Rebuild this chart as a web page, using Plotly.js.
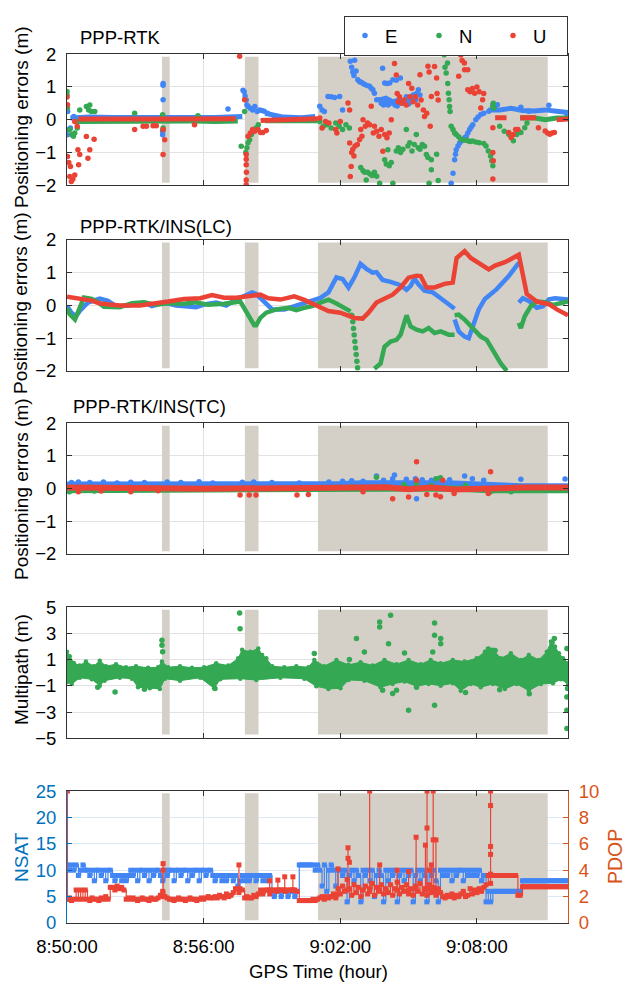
<!DOCTYPE html>
<html><head><meta charset="utf-8">
<script src="https://cdn.plot.ly/plotly-3.0.1.min.js"></script>
<style>body{margin:0;background:#fff}#chart{width:630px;height:984px}</style>
</head><body><div id="chart"></div><script>
// time axis: minutes after 8:50:00
const xTickVals = [0, 6, 12, 18];
const xTickText = ['8:50:00', '8:56:00', '9:02:00', '9:08:00'];
const shadeWindows = [[4.17, 4.51], [7.81, 8.41], [11.02, 21.11]];

// ---------- Panel 1: PPP-RTK (E/N/U) ----------
const rtkE_bandT = [0.15,1,2,3,4,4.6,5.5,6.5,7.4,7.7,null,8.7,9.5,10.3,10.9,null,13.7,14.0,14.3,14.6,14.9,15.2,15.4,null,18.5,19,19.5,20,20.5,21,21.5,22];
const rtkE_bandV = [0.05,0.08,0.07,0.08,0.07,0.06,0.07,0.07,0.08,0.1,null,0.2,0.08,0.06,0.1,null,0.6,0.66,0.55,0.6,0.55,0.62,0.7,null,0.3,0.3,0.35,0.28,0.27,0.3,0.26,0.22];
const rtkE_dots = [[0.02,-0.46],[0.08,-0.3],[0.15,-0.25],[0.03,0.25],[0.3,0.1],[4.22,1.1],[4.22,1.05],[4.22,0.61],[4.2,-0.46],[4.2,-0.35],[7.07,0.33],[7.73,0.9],[7.78,0.85],[7.82,0.72],[7.87,0.6],[7.9,0.45],[7.95,0.4],[8.05,0.35],[8.15,0.3],[8.25,0.4],[8.35,0.25],[8.45,0.3],[8.55,0.28],[8.66,0.26],[8.8,0.2],[9.1,0.12],
[11.1,0.41],[11.2,0.3],[11.3,0.25],[11.46,0.71],[11.6,0.7],[11.75,0.68],[11.97,0.71],[12.1,0.3],
[12.44,1.78],[12.5,1.6],[12.55,1.45],[12.6,1.35],[12.63,1.81],[12.69,1.48],[12.77,1.22],[12.85,1.16],[12.92,1.14],[13.0,1.1],[13.07,1.07],[13.18,1.04],[13.29,1.02],[13.36,0.96],[13.43,0.91],[13.5,0.81],[13.6,0.61],[13.73,0.61],[13.86,1.57],[13.95,1.12],[14.05,1.1],[14.17,1.12],[14.31,1.22],[14.46,1.2],[14.64,1.27],[13.8,0.5],[13.9,0.45],[14.0,0.55],[14.1,0.45],[14.2,0.5],[14.4,0.45],[14.5,0.42],[14.7,0.5],[14.8,0.52],[15.0,0.48],[15.1,0.55],[15.3,0.6],[15.43,0.91],[15.35,0.8],[15.5,0.75],[15.2,0.75],[14.9,0.7],
[16.83,-2.05],[16.87,-1.93],[16.95,-1.63],[17.02,-1.22],[17.06,-1.05],[17.09,-0.91],[17.17,-0.8],[17.24,-0.71],[17.32,-0.65],[17.39,-0.61],[17.46,-0.55],[17.53,-0.51],[17.6,-0.4],[17.68,-0.3],[17.75,-0.22],[17.82,-0.15],[17.95,0.0],[18.05,0.08],[18.17,0.16],[18.3,0.2],[18.52,0.26],[18.7,0.46],[18.8,0.42],[18.9,0.46],[19.93,0.38],[21.16,0.44],[21.95,0.16],[20.28,0.26]];

const rtkN_bandT = [0.4,1.5,2.5,3.5,4.1,4.6,5.5,6.5,7.5,null,8.7,9.5,10.3,11,null,19.9,20.5,21,21.5,22];
const rtkN_bandV = [-0.05,-0.04,-0.05,-0.05,-0.04,-0.05,-0.04,-0.05,-0.04,null,-0.03,-0.04,-0.05,-0.03,null,0.05,0.06,0.0,0.05,0.05];
const rtkN_dots = [[0.0,0.86],[0.0,0.75],[0.02,0.36],[0.12,-0.3],[0.2,-0.45],[0.28,-0.5],[0.34,-0.4],[0.45,-0.25],[0.56,0.3],[0.85,0.4],[0.95,0.3],[1.0,0.45],[1.07,0.25],[1.22,0.25],[2.97,0.2],[4.2,0.15],[4.22,-0.25],[4.22,-0.3],[5.75,0.12],[7.65,-0.81],[7.8,0.25],[7.85,-1.0],[7.9,-0.85],[7.95,-0.7],[8.02,-0.61],[8.1,-0.45],[8.2,-0.35],[8.3,-0.25],[8.4,-0.15],
[11.1,-0.05],[11.25,-0.2],[11.4,-0.15],[11.6,-0.25],[11.8,-0.1],[11.95,-0.2],[12.1,-0.3],[12.25,-0.15],[12.4,-0.25],
[12.9,-1.45],[13.0,-1.55],[13.07,-1.6],[13.14,-1.83],[13.2,-1.6],[13.3,-1.65],[13.4,-1.7],[13.5,-1.6],[13.6,-1.72],[13.73,-1.93],[13.95,-1.22],[14.02,-1.35],[14.09,-0.91],[14.15,-1.4],[14.24,-1.3],[14.31,-1.93],[14.46,-0.95],[14.55,-0.85],[14.65,-1.0],[14.75,-0.9],[14.9,-0.3],[14.97,-0.8],[15.05,-0.7],[15.15,-0.95],[15.25,-0.75],[15.34,-0.45],[15.42,-0.85],[15.5,-0.9],[15.6,-0.75],[15.7,-0.81],[15.78,-1.06],[15.85,-1.15],[15.9,-1.93],[16.0,-1.22],[16.0,-1.52],[16.23,-1.05],[16.3,-1.85],
[16.56,1.98],[16.6,1.6],[16.65,1.42],[16.71,1.73],[16.72,1.1],[16.75,0.81],[16.78,0.61],[16.8,0.4],[16.82,0.25],[16.87,-0.2],[16.95,-0.3],[17.02,-0.4],[17.09,-0.45],[17.2,-0.52],[17.3,-0.6],[17.39,-0.61],[17.5,-0.62],[17.6,-0.64],[17.7,-0.66],[17.8,-0.65],[17.95,-0.68],[18.1,-0.7],[18.3,-0.72],[18.4,-0.8],[18.5,-0.95],[18.6,-1.1],[18.7,-1.4],[18.65,-1.25],[18.7,0.4],[18.72,0.5],[18.75,0.36],[19.0,-0.2],[19.2,-0.35],[19.4,-0.44],[19.5,-0.5],[19.6,-0.64],[19.75,-0.45],[19.93,-0.39],[20.1,-0.24],[20.2,-0.1]];

const rtkU_bandT = [0.5,1.5,2.5,3.5,4.1,4.6,5.5,6.5,7.4,null,8.5,9.5,10.3,11,null,18.8,19.3,null,19.9,20.6,null,21.5,22];
const rtkU_bandV = [0.02,0.03,0.02,0.03,0.02,0.02,0.03,0.02,0.03,null,-0.02,0.0,0.02,0.03,null,0.06,0.06,null,0.06,0.06,null,0.0,0.02];
const rtkU_dots = [[0.0,0.69],[0.02,0.46],[0.02,-1.12],[0.08,-1.3],[0.15,-1.42],[0.12,-1.73],[0.19,-1.88],[0.26,-1.8],[0.34,-1.68],[0.34,-0.05],[0.45,-0.2],[0.48,-0.91],[0.56,-1.06],[0.51,-1.37],[0.85,-0.51],[0.92,-1.17],[1.0,-0.91],[1.19,-0.59],[2.97,-0.3],[3.34,-0.2],[3.49,-0.2],[3.78,-0.18],[3.92,-0.18],[4.22,-0.3],[4.29,-0.61],[4.22,-1.06],[5.6,-0.15],[7.58,1.93],[7.8,0.61],[7.87,-1.06],[7.87,-1.2],[7.87,-1.37],[7.88,-1.6],[7.87,-1.83],[7.87,-1.98],[7.95,-0.5],[8.05,-0.4],[8.15,-0.3],[8.24,-0.35],[8.39,-0.3],[8.5,-0.39],[8.6,-0.39],[8.75,-0.33],
[11.1,0.05],[11.2,-0.25],[11.35,-0.05],[11.5,-0.1],[11.8,-0.3],[11.85,-0.4],[12.0,-0.05],[12.34,0.51],[12.41,0.3],
[12.41,-0.71],[12.44,-1.73],[12.48,-1.42],[12.5,-1.0],[12.55,-0.9],[12.6,-1.1],[12.65,-0.8],[12.75,-0.75],[12.85,-0.6],[12.9,-0.3],[12.95,-0.5],[13.0,0.0],[13.1,-0.2],[13.2,-0.1],[13.29,-0.15],[13.36,0.41],[13.45,-0.4],[13.5,-0.2],[13.6,-0.35],[13.7,-0.5],[13.8,-0.3],[13.87,-0.96],[13.95,-0.45],[14.05,-0.55],[14.15,-0.4],[14.24,0.0],[14.38,1.71],[14.46,1.36],[14.5,0.8],[14.55,0.55],[14.6,0.7],[14.7,0.5],[14.8,0.6],[14.9,0.45],[15.0,1.1],[15.05,0.7],[15.14,0.96],[15.2,0.55],[15.3,0.7],[15.4,0.45],[15.5,1.37],[15.55,0.6],[15.65,0.3],[15.7,0.1],[15.8,0.2],[15.85,1.63],[15.9,1.45],[15.95,-0.2],[16.0,0.71],[16.14,1.62],[16.23,1.27],[16.25,0.8],[16.3,0.6],
[17.2,1.32],[17.29,1.97],[17.35,1.8],[17.45,1.73],[17.46,1.52],[17.6,1.52],[17.6,0.91],[17.7,0.85],[17.8,0.95],[17.9,0.81],[18.0,1.0],[18.1,0.85],[18.17,0.36],[18.25,0.61],[18.3,0.8],[18.7,-0.24],[18.7,-1.0],[18.72,-1.25],[18.7,-1.8],[19.4,-0.39],[19.5,-0.54],[19.6,-0.45],[19.7,-0.3],[19.8,-0.3],[20.7,-0.24],[21.0,-0.34],[21.1,-0.4],[21.2,-0.44],[21.3,-0.4],[21.4,-0.39]];

// ---------- Panel 2: PPP-RTK/INS (LC) ----------
const lcE = [[0,-0.02],[0.2,-0.22],[0.39,-0.33],[0.56,-0.17],[0.92,0.09],[1.44,0.21],[1.8,0.14],[2.15,-0.02],[2.68,0],[3.38,0.09],[3.73,-0.02],[4.26,0.09],[4.79,0],[5.32,-0.04],[5.67,-0.05],[6.02,0.03],[6.55,0.09],[6.99,0],[7.43,0.19],[7.78,0.29],[8.13,0.4],[8.31,0.35],[8.66,0.09],[9.01,-0.12],[9.54,-0.12],[10.07,0],[10.6,0.14],[11.13,0.23],[11.48,0.4],[11.83,0.86],[12.1,0.81],[12.36,0.55],[12.62,0.86],[12.89,1.27],[13.15,1.12],[13.42,1.0],[13.59,1.02],[13.86,0.78],[14.21,0.72],[14.65,0.62],[14.91,0.48],[15.09,0.6],[15.26,0.82],[15.44,0.64],[15.7,0.45],[16.06,0.4],[16.41,0.22],[16.76,0.02],[17.02,-0.1],[null,null],[17.02,-0.43],[17.2,-0.79],[17.46,-0.95],[17.64,-1.0],[17.82,-0.64],[18.08,-0.12],[18.35,0.2],[18.87,0.5],[19.4,0.9],[19.84,1.3],[null,null],[19.84,0.09],[20.02,0.22],[20.28,0.14],[20.63,-0.07],[20.9,-0.02],[21.16,0.19],[21.43,0.22],[22.0,0.18]];
const lcN = [[0,-0.07],[0.12,-0.27],[0.35,-0.43],[0.56,-0.02],[0.74,0.24],[1.09,0.2],[1.36,0.1],[1.62,-0.04],[2.32,-0.05],[2.85,0.07],[3.38,0.1],[3.91,0.02],[4.44,0.07],[5.14,0.05],[5.67,0.1],[6.2,0.02],[6.9,0.05],[7.61,0.12],[7.87,-0.17],[8.05,-0.43],[8.22,-0.6],[8.31,-0.6],[8.49,-0.38],[8.75,-0.22],[9.19,-0.12],[9.72,-0.07],[10.07,-0.14],[10.42,-0.07],[10.77,-0.02],[11.13,0.09],[11.48,0.18],[11.83,0.06],[12.18,-0.08],[12.45,-0.18],[null,null],[13.5,-1.93],[13.77,-1.77],[13.94,-1.26],[14.21,-1.1],[14.47,-1.05],[14.65,-0.89],[14.91,-0.3],[15.09,-0.64],[15.35,-0.74],[15.62,-0.79],[15.88,-0.69],[16.14,-0.84],[16.41,-0.79],[16.76,-0.89],[17.02,-0.89],[null,null],[17.02,-0.3],[17.2,-0.28],[17.46,-0.43],[17.82,-0.69],[18.17,-0.95],[18.43,-1.05],[18.7,-1.36],[19.05,-1.77],[19.31,-2.0],[null,null],[19.84,-0.53],[19.93,-0.69],[20.1,-0.33],[20.37,-0.02],[20.63,0.12],[20.99,0.1],[21.34,0.02],[21.69,0.06],[22.0,0.12]];
const lcN_fallDots = [[12.5,-0.3],[12.55,-0.5],[12.58,-0.7],[12.61,-0.9],[12.64,-1.1],[12.67,-1.3],[12.7,-1.5],[12.73,-1.7],[12.76,-1.9]];
const lcU = [[0,0.27],[0.56,0.22],[1.09,0.15],[1.44,0.06],[2.32,0],[3.2,0],[3.73,0.04],[4.44,0.12],[5.14,0.2],[5.85,0.22],[6.37,0.32],[6.9,0.24],[7.43,0.24],[8.13,0.3],[8.49,0.33],[8.84,0.22],[9.37,0.18],[9.98,0.28],[10.42,0.17],[10.95,0],[11.48,-0.17],[12.0,-0.22],[12.36,-0.3],[12.62,-0.38],[12.98,-0.4],[13.24,-0.22],[13.59,0.09],[13.94,0.2],[14.3,0.33],[14.65,0.55],[15.0,0.85],[15.35,0.91],[15.53,0.9],[15.79,0.55],[16.14,0.55],[16.58,0.66],[16.94,0.7],[17.11,1.45],[17.46,1.66],[17.73,1.45],[18.08,1.3],[18.52,1.1],[18.8,1.22],[19.23,1.32],[19.84,1.55],[20.02,0.86],[20.19,0.35],[20.63,0.12],[21.16,0.04],[21.51,-0.12],[22.0,-0.3]];

// ---------- Panel 3: PPP-RTK/INS (TC) ----------
const tcE_band = [[0,0.12],[2,0.12],[4,0.11],[6,0.12],[8,0.1],[10,0.11],[11,0.12],[12,0.14],[13,0.16],[14,0.17],[15,0.18],[16,0.16],[17,0.15],[18,0.13],[18.8,0.08],[20,0.07],[22,0.07]];
const tcE_dots = [[0.2,0.18],[0.5,0.2],[1.0,0.18],[1.6,0.2],[2.2,0.17],[2.8,0.19],[3.4,0.18],[4.4,0.2],[5.0,0.18],[5.8,0.21],[6.4,0.17],[7.7,0.19],[8.2,0.2],[9.0,0.18],[10.2,0.17],[11.5,0.2],[12.1,0.22],[12.5,0.24],[13.0,0.22],[13.59,0.38],[13.9,0.25],[14.3,0.3],[14.38,0.41],[14.9,0.28],[15.3,0.3],[15.35,-0.31],[15.6,0.27],[16.0,0.25],[16.3,0.3],[16.8,0.27],[17.46,0.38],[17.8,0.3],[18.3,0.25],[19.93,0.28],[21.87,0.29]];
const tcN_band = [[0,-0.05],[3,-0.04],[6,-0.05],[9,-0.04],[11,-0.04],[12.5,-0.02],[14,0.0],[15.5,0.02],[17,0.0],[18.5,-0.05],[20,-0.04],[22,-0.05]];
const tcN_dots = [[0.1,-0.1],[1.2,-0.08],[13.59,0.34],[15.35,0.15],[16.2,0.3],[16.4,0.33],[16.0,0.1],[12.5,0.05],[19.5,-0.1],[18.6,-0.1],[14.8,0.12],[17.5,0.1]];
const tcU_band = [[0,0.03],[2,0.0],[4,0.01],[6,-0.01],[8,0.0],[10,0.01],[11,0.0],[12,0.02],[13,0.0],[14,0.04],[15,-0.02],[16,0.03],[17,-0.03],[18,0.0],[18.8,0.03],[20,0.03],[22,0.03]];
const tcU_dots = [[0.5,-0.1],[1.5,-0.08],[2.8,-0.1],[4.0,-0.07],[7.6,-0.2],[8.0,-0.2],[8.3,-0.2],[10.1,-0.2],[10.6,-0.18],[14.3,-0.31],[15.0,-0.26],[15.35,0.82],[15.35,0.25],[16.4,-0.25],[16.5,0.25],[18.6,0.51],[18.5,-0.15],[17.0,-0.15],[13.0,-0.1],[15.8,-0.18],[16.2,-0.2]];

// ---------- Panel 4: Multipath ----------
const mpUpper = [[0.0,1.6],[0.12,1.25],[0.3,0.75],[0.56,0.55],[0.83,0.85],[1.18,0.5],[1.44,0.92],[1.71,0.5],[2.15,0.65],[2.59,0.42],[3.03,0.5],[3.56,0.38],[4.0,0.42],[4.17,0.85],[4.44,0.42],[4.96,0.5],[5.49,0.38],[6.02,0.42],[6.55,0.72],[7.08,0.55],[7.52,1.1],[7.69,1.75],[8.05,1.6],[8.4,1.85],[8.57,1.36],[8.75,1.1],[9.01,0.5],[9.54,0.42],[10.07,0.5],[10.6,0.42],[10.86,0.98],[11.3,0.5],[11.83,0.98],[12.36,0.6],[12.89,0.8],[13.42,0.55],[13.94,0.98],[14.47,0.65],[15.0,0.98],[15.53,0.65],[15.97,0.98],[16.41,0.72],[16.94,0.98],[17.46,0.85],[17.99,1.1],[18.35,1.6],[18.7,1.75],[19.05,1.1],[19.49,1.48],[19.93,0.98],[20.28,1.36],[20.72,0.98],[21.07,1.6],[21.25,2.37],[21.43,2.0],[21.6,1.48],[21.78,1.1],[22.0,0.72]];
const mpLower = [[0.0,-0.72],[0.21,-0.85],[0.56,-0.38],[1.09,-0.5],[1.44,-0.98],[1.65,-0.6],[2.32,-0.38],[2.85,-0.45],[3.12,-1.1],[3.64,-1.18],[4.08,-1.23],[4.3,-0.45],[4.96,-0.6],[5.85,-0.38],[6.46,-1.18],[6.73,-0.5],[7.61,-0.45],[8.31,-0.55],[9.37,-0.38],[10.42,-0.45],[10.95,-1.03],[11.48,-1.23],[12.01,-1.18],[12.36,-0.55],[13.06,-0.6],[13.77,-1.1],[14.3,-0.85],[14.82,-0.67],[15.35,-1.03],[15.88,-0.85],[16.41,-0.98],[16.94,-0.8],[17.29,-1.36],[17.73,-0.85],[18.17,-1.1],[18.7,-0.85],[19.23,-1.23],[19.75,-0.85],[20.28,-1.36],[20.81,-0.85],[21.34,-0.8],[21.69,-0.5],[22.0,-0.85]];
const mpOutliers = [[7.58,4.54],[7.6,3.35],[4.17,2.47],[4.17,2.1],[4.2,1.6],[2.11,-1.46],[12.71,2.6],[13.06,1.58],[13.73,3.86],[13.73,3.48],[14.21,4.37],[14.12,2.2],[14.82,1.5],[15.0,-2.85],[16.14,3.78],[16.14,2.85],[16.41,2.6],[16.41,2.2],[16.06,1.58],[16.14,-2.47],[13.86,-1.33],[14.3,-1.58],[14.47,-1.33],[15.35,-1.1],[21.95,1.84],[21.95,-1.84],[21.95,-2.85],[21.95,-4.24],[21.98,-1.2],[10.86,1.46],[12.4,1.0],[19.0,-1.3],[17.5,-1.5],[20.3,-1.6],[21.3,2.3],[21.4,2.6],[18.5,1.8],[18.8,1.7],[1.35,-1.1],[3.4,-1.25],[6.5,-1.2]];

// ---------- Panel 5: NSAT / PDOP, one sample every 0.1 min ----------
const nsatVals = [
 11,10,11,10,11,9,10,11,10,
 10,9,10,8,10,10,9,10,8,10,10,
 9,8,9,9,8,9,8,9,
 10,9,10,8,10,10,9,10,8,10,9,10,10,9,
 8,10,9,10,
 10,8,10,10,9,10,10,8,10,9,10,10,8,10,10,9,10,10,
 9,8,9,9,8,9,8,9,9,8,9,7,8,
 9,8,9,8,9,9,8,9,
 9,8,9,8,9,
 6,5,6,6,5,6,6,5,6,6,5,6,
 11,11,11,11,11,11,11,10,11,
 10,7,11,6,10,11,10,7,10,
 10,9,10,4,9,10,8,10,9,4,10,
 9,10,8,10,5,9,10,9,4,10,
 8,10,9,10,4,9,10,8,10,9,
 10,4,9,10,8,10,9,4,10,9,
 10,8,4,10,9,10,9,10,8,10,
 9,10,10,8,10,9,10,9,10,9,
 10,8,9,
 4,6,4,
 6,6,6,6,6,6,6,6,6,6,6,6,6,
 8,8,8,8,8,8,8,8,8,8,8,8,8,8,8,8,8,8,8,8,8];
const pdopVals = [
 1.8,1.9,1.7,1.8,2.5,1.8,2.5,1.8,2.5,
 1.8,1.7,1.9,1.8,1.8,1.7,1.9,1.8,2.0,1.8,2.7,
 2.7,2.5,2.8,2.6,2.7,2.5,1.8,1.9,
 1.8,1.9,1.8,1.7,1.8,1.9,1.8,1.8,1.7,1.9,1.8,1.8,1.9,2.1,
 2.4,2.0,1.9,1.8,
 1.8,1.7,1.8,1.9,1.8,1.8,1.7,1.8,1.9,1.8,1.8,1.7,1.8,1.9,1.8,1.9,2.0,1.9,
 1.9,2.0,1.9,2.1,2.0,1.9,2.2,2.0,2.1,2.3,2.6,2.6,2.6,
 2.5,1.9,2.0,1.9,1.9,2.1,2.0,2.2,
 2.5,2.2,2.5,2.5,2.2,
 2.5,2.5,2.4,2.5,2.5,2.5,2.4,2.5,2.5,2.5,2.5,2.4,
 1.7,1.7,1.7,1.7,1.7,1.7,1.8,1.7,1.8,
 1.9,2.0,1.8,2.0,1.9,2.0,2.2,1.9,2.6,
 2.2,2.8,2.4,3.3,2.6,2.1,2.9,2.3,2.7,2.0,2.5,
 2.8,2.2,2.6,3.0,2.1,2.7,2.4,2.9,2.2,2.6,
 2.3,2.9,2.1,2.6,3.1,2.2,2.7,2.4,2.9,2.2,
 2.6,2.1,2.8,2.4,3.0,2.2,2.6,2.1,2.9,2.3,
 2.7,2.1,2.6,2.3,2.0,1.9,2.1,2.0,2.2,1.9,
 2.1,2.0,2.2,2.4,2.0,2.1,2.6,2.2,2.5,2.3,
 2.6,2.4,2.7,
 2.9,3.6,3.7,
 3.6,3.6,3.6,3.6,3.6,3.6,3.6,3.6,3.6,3.6,3.6,2.1,2.1,
 2.75,2.75,2.75,2.75,2.75,2.75,2.75,2.75,2.75,2.75,2.75,2.75,2.75,2.75,2.75,2.75,2.75,2.75,2.75,2.75,2.75];
// PDOP spikes: [time, base, top]
const pdopSpikes = [[0.02,1.8,10],[4.22,2.0,4.5],[7.55,2.3,4.4],[8.9,2.5,3.2],[9.26,2.5,3.25],[9.56,2.5,3.5],[9.92,2.5,3.5],[11.9,2.2,4.1],[12.34,2.5,5.7],[13.29,2.4,10],[13.73,2.5,4.4],[14.5,2.5,4.0],[15.0,2.5,3.9],[15.33,2.6,6.5],[15.74,2.5,5.9],[15.81,2.6,10],[16.0,2.5,4.4],[16.08,2.6,10],[16.2,2.4,6.3],[18.6,3.0,10]];
const pdopSpikeMarks = [[4.22,4.0],[12.34,4.9],[12.4,4.6],[15.81,7.2],[16.08,6.3],[18.6,8.9],[18.6,5.8],[18.6,5.2],[15.9,4.0]];

// ---------- build ----------
const cE = 'rgb(66,133,244)', cN = 'rgb(52,168,83)', cU = 'rgb(234,67,53)';
const shadeCol = 'rgb(212,208,200)';
const gridCol = 'rgb(226,226,226)';
const axCol = 'rgb(50,50,50)';
const FONT = 'Liberation Sans, Arial, sans-serif';
const FS = 18.5;
const tgrid = nsatVals.map((_, i) => i / 10);

function col(p, k) { return p.map(d => d === null || d[0] === null ? null : d[k]); }
function dots(pairs, color, xa, ya, name, legend) {
  return {type:'scatter', mode:'markers', x:col(pairs,0), y:col(pairs,1), xaxis:xa, yaxis:ya,
    marker:{color:color, size:5.5}, name:name||'', showlegend:!!legend, hoverinfo:'skip'};
}
function band(t, v, color, xa, ya, w) {
  return {type:'scatter', mode:'lines', x:t, y:v, xaxis:xa, yaxis:ya,
    line:{color:color, width:w}, showlegend:false, hoverinfo:'skip', connectgaps:false};
}

const traces = [];
// Panel 1
traces.push(band(rtkE_bandT, rtkE_bandV, cE, 'x', 'y', 5));
traces.push(dots(rtkE_dots, cE, 'x', 'y', 'E', true));
traces.push(band(rtkN_bandT, rtkN_bandV, cN, 'x', 'y', 5));
traces.push(dots(rtkN_dots, cN, 'x', 'y', 'N', true));
traces.push(band(rtkU_bandT, rtkU_bandV, cU, 'x', 'y', 5));
traces.push(dots(rtkU_dots, cU, 'x', 'y', 'U', true));
// Panel 2
traces.push(band(col(lcE,0), col(lcE,1), cE, 'x2', 'y2', 4.5));
traces.push(band(col(lcN,0), col(lcN,1), cN, 'x2', 'y2', 4.5));
traces.push(dots(lcN_fallDots, cN, 'x2', 'y2'));
traces.push(band(col(lcU,0), col(lcU,1), cU, 'x2', 'y2', 4.5));
// Panel 3
traces.push(band(col(tcE_band,0), col(tcE_band,1), cE, 'x3', 'y3', 6));
traces.push(dots(tcE_dots, cE, 'x3', 'y3'));
traces.push(band(col(tcN_band,0), col(tcN_band,1), cN, 'x3', 'y3', 6));
traces.push(dots(tcN_dots, cN, 'x3', 'y3'));
traces.push(band(col(tcU_band,0), col(tcU_band,1), cU, 'x3', 'y3', 6));
traces.push(dots(tcU_dots, cU, 'x3', 'y3'));
// Panel 4
traces.push({type:'scatter', mode:'lines+markers', x:col(mpLower,0), y:col(mpLower,1), xaxis:'x4', yaxis:'y4',
  line:{color:cN, width:1}, marker:{color:cN, size:4.5}, showlegend:false, hoverinfo:'skip'});
traces.push({type:'scatter', mode:'lines+markers', x:col(mpUpper,0), y:col(mpUpper,1), xaxis:'x4', yaxis:'y4',
  fill:'tonexty', fillcolor:cN, line:{color:cN, width:1}, marker:{color:cN, size:4.5}, showlegend:false, hoverinfo:'skip'});
traces.push(dots(mpOutliers, cN, 'x4', 'y4'));
// Panel 5
traces.push({type:'scatter', mode:'lines+markers', x:tgrid, y:nsatVals, xaxis:'x5', yaxis:'y5',
  line:{color:cE, width:1.2, shape:'hv'}, marker:{color:cE, size:5, symbol:'square'}, showlegend:false, hoverinfo:'skip'});
const spX = [], spY = [];
pdopSpikes.forEach(s => { spX.push(s[0], s[0], null); spY.push(s[1], s[2], null); });
traces.push({type:'scatter', mode:'lines+markers', x:tgrid, y:pdopVals, xaxis:'x5', yaxis:'y6',
  line:{color:cU, width:1.2, shape:'hv'}, marker:{color:cU, size:5, symbol:'square'}, showlegend:false, hoverinfo:'skip'});
traces.push({type:'scatter', mode:'lines+markers', x:spX, y:spY, xaxis:'x5', yaxis:'y6',
  line:{color:cU, width:1.2}, marker:{color:cU, size:5, symbol:'square'}, showlegend:false, hoverinfo:'skip'});
traces.push({type:'scatter', mode:'markers', x:col(pdopSpikeMarks,0), y:col(pdopSpikeMarks,1), xaxis:'x5', yaxis:'y6',
  marker:{color:cU, size:5, symbol:'square'}, showlegend:false, hoverinfo:'skip'});

const doms = [[0.8115,0.9451],[0.6230,0.7561],[0.4370,0.5701],[0.2495,0.3831],[0.0620,0.1961]];
const layout = {
  width:630, height:984, margin:{l:67, r:62, t:0, b:0},
  paper_bgcolor:'#fff', plot_bgcolor:'#fff',
  font:{family:FONT, size:FS, color:'#000'},
  showlegend:true,
  legend:{x:(344 - 67) / 501, y:0.9837, xanchor:'left', yanchor:'top', orientation:'h', bgcolor:'#fff', traceorder:'normal',
    bordercolor:axCol, borderwidth:1, font:{size:FS, family:FONT}, entrywidth:29, entrywidthmode:'pixels', tracegroupgap:0},
  shapes:[], annotations:[]
};
const yRanges = [[-2,2],[-2,2],[-2,2],[-5,5],[0,25]];
const yTicks = [[-2,-1,0,1,2],[-2,-1,0,1,2],[-2,-1,0,1,2],[-5,-3,-1,1,3,5],[0,5,10,15,20,25]];
const shadeY = [[-1.92,1.92],[-1.92,1.92],[-1.92,1.92],[-4.7,4.8],[0.5,24.6]];
for (let i = 0; i < 5; i++) {
  const xs = i === 0 ? '' : String(i + 1);
  const ys = xs;
  layout['xaxis' + xs] = {domain:[0,1], anchor:'y' + ys, range:[0,22], tickvals:xTickVals, ticktext:xTickText,
    showticklabels:i === 4, ticks:'inside', ticklen:5, tickcolor:axCol, showline:true, linecolor:axCol, linewidth:1,
    mirror:'ticks', showgrid:true, gridcolor:gridCol, zeroline:false, tickfont:{size:FS, family:FONT},
    ticklabelstandoff:7, fixedrange:true};
  const ya = {domain:doms[i], anchor:'x' + xs, range:yRanges[i], tickvals:yTicks[i], ticks:'inside', ticklen:5,
    tickcolor:axCol, showline:true, linecolor:axCol, linewidth:1, mirror:'ticks', showgrid:true, gridcolor:gridCol,
    zeroline:false, tickfont:{size:FS, family:FONT}, ticklabelstandoff:6, fixedrange:true};
  if (i === 4) {
    const b = 'rgb(0,114,189)';
    Object.assign(ya, {mirror:false, linecolor:b, tickcolor:b, tickfont:{size:FS, family:FONT, color:b}, gridcolor:'rgb(220,233,245)'});
  }
  layout['yaxis' + ys] = ya;
  shadeWindows.forEach(w => layout.shapes.push({type:'rect', xref:'x' + xs, yref:'y' + ys, x0:w[0], x1:w[1],
    y0:shadeY[i][0], y1:shadeY[i][1], fillcolor:shadeCol, line:{width:0}, layer:'between'}));
}
const o = 'rgb(217,83,25)';
layout.yaxis6 = {overlaying:'y5', side:'right', anchor:'x5', range:[0,10], tickvals:[0,2,4,6,8,10], ticks:'inside', ticklen:5,
  tickcolor:o, showline:true, linecolor:o, linewidth:1, showgrid:false, zeroline:false,
  tickfont:{size:FS, family:FONT, color:o}, ticklabelstandoff:6, fixedrange:true};

// titles & labels
const px2x = p => (p - 67) / 501;
const py2y = p => 1 - p / 984;
const panelTitles = [['PPP-RTK', 78, 38], ['PPP-RTK/INS(LC)', 78, 226], ['PPP-RTK/INS(TC)', 71, 406]];
panelTitles.forEach(t => layout.annotations.push({text:t[0], xref:'paper', yref:'paper', x:px2x(t[1]), y:py2y(t[2]),
  xanchor:'left', yanchor:'middle', showarrow:false, font:{size:FS, family:FONT, color:'#000'}}));
const yLabels = [['Positioning errors (m)', 117, '#000'], ['Positioning errors (m)', 303, '#000'],
  ['Positioning errors (m)', 489, '#000'], ['Multipath (m)', 670, '#000'], ['NSAT', 857, 'rgb(0,114,189)']];
yLabels.forEach(t => layout.annotations.push({text:t[0], xref:'paper', yref:'paper', x:px2x(21), y:py2y(t[1]),
  xanchor:'center', yanchor:'middle', textangle:-90, showarrow:false, font:{size:19, family:FONT, color:t[2]}}));
layout.annotations.push({text:'PDOP', xref:'paper', yref:'paper', x:px2x(615), y:py2y(857), xanchor:'center', yanchor:'middle',
  textangle:-90, showarrow:false, font:{size:19.5, family:FONT, color:o}});
layout.annotations.push({text:'GPS Time (hour)', xref:'paper', yref:'paper', x:px2x(318), y:py2y(971), xanchor:'center',
  yanchor:'middle', showarrow:false, font:{size:FS, family:FONT, color:'#000'}});

Plotly.newPlot('chart', traces, layout, {displayModeBar:false, staticPlot:true});
</script></body></html>
